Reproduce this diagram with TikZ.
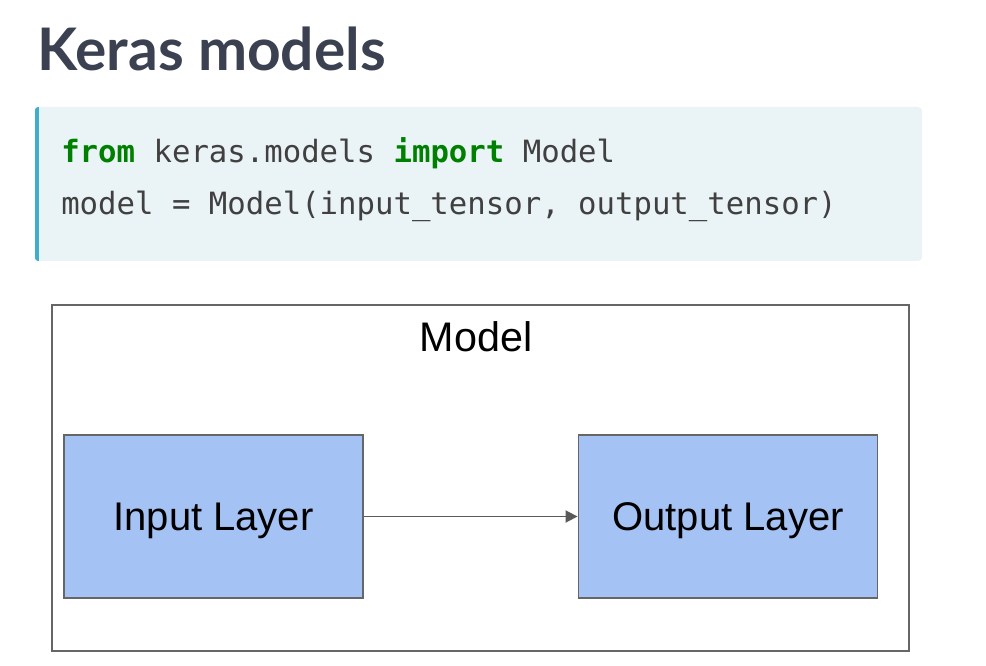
\documentclass[tikz,border=0pt]{standalone}
\usepackage{fontspec}
\setmainfont{Liberation Sans}
\newfontfamily\titlefont{Lato}
\newfontfamily\codefont{DejaVu Sans Mono}
\usetikzlibrary{positioning,arrows.meta,fit}
\definecolor{titlegrey}{HTML}{3B4151}
\definecolor{codebg}{HTML}{EAF3F6}
\definecolor{codebar}{HTML}{40AECB}
\definecolor{codetext}{HTML}{404040}
\definecolor{kwgreen}{HTML}{008000}
\definecolor{layerblue}{HTML}{A4C2F4}
\definecolor{edgegrey}{HTML}{666666}
\definecolor{arrowgrey}{HTML}{595959}
\tikzset{
  heading/.style={font=\titlefont\bfseries\fontsize{44}{48}\selectfont,
                  text=titlegrey, inner sep=0pt},
  codeline/.style={font=\codefont\fontsize{23}{26}\selectfont,
                   text=codetext, inner sep=0pt},
  codepanel/.style={fill=codebg, rounded corners=3pt, inner sep=0pt},
  modelbox/.style={draw=edgegrey, line width=1.5pt, inner sep=0pt},
  layer/.style={draw=edgegrey, fill=layerblue, line width=1.4pt,
                minimum width=224.25pt, minimum height=122.25pt,
                text height=21.5pt, text depth=0pt,
                font=\fontsize{30}{34}\selectfont},
  flow/.style={-{Triangle[length=9pt, width=9pt]}, draw=arrowgrey,
               line width=1.4pt},
}
\newcommand{\kw}[1]{\textcolor{kwgreen}{\bfseries #1}}

\begin{document}
\begin{tikzpicture}[x=0.75pt, y=-0.75pt]
\useasboundingbox (0,0) rectangle (986,666);

% ---------------------------------------------------------------- heading
\node[heading, anchor=base west] (title) at (37,71) {Keras models};

% ---------------------------------------------------------------- code panel
\coordinate (cbnw) at (35,107);
\coordinate (cbse) at (922,261);
\node[codepanel, fit=(cbnw)(cbse)] (codebox) {};
\begin{scope}
  \clip[rounded corners=3pt] (codebox.north west) rectangle (codebox.south east);
  \fill[codebar] (codebox.north west) rectangle ([xshift=3pt]codebox.south west);
\end{scope}
\node[codeline, anchor=base west] (code1) at (61,163)
  {\kw{from} keras.models \kw{import} Model};
\node[codeline, anchor=base west] (code2) at (61,215)
  {model = Model(input\_tensor, output\_tensor)};

% ---------------------------------------------------------------- model
\coordinate (mbnw) at (52,305);
\coordinate (mbse) at (909,651);
\node[modelbox, fit=(mbnw)(mbse)] (model) {};
\node[font=\fontsize{31}{34}\selectfont, anchor=base, inner sep=0pt]
  (modeltitle) at (476,352) {Model};

\node[layer] (inp) at (213.5,516.5) {Input Layer};
\node[layer] (outp) at (728,516.5) {Output Layer};

% ---------------------------------------------------------------- edges
\draw[flow] (inp) -- (outp);

\end{tikzpicture}
\end{document}
